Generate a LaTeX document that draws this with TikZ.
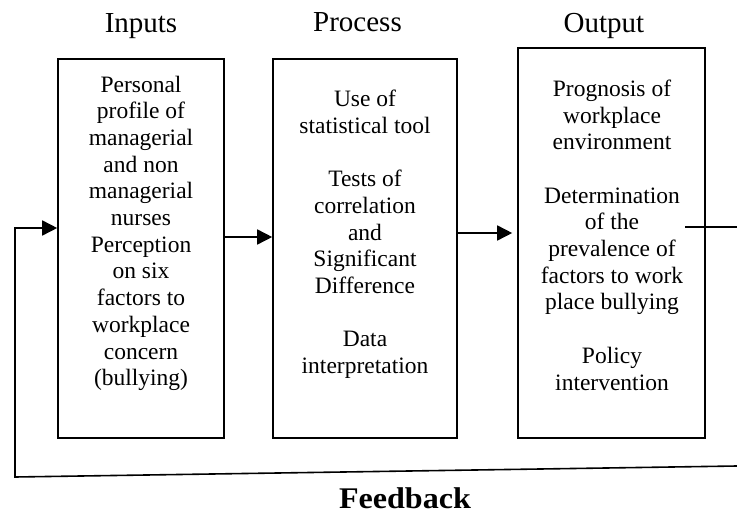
\documentclass[tikz,border=0pt]{standalone}
\usepackage{fontspec}
\setmainfont{Liberation Serif}
\usetikzlibrary{arrows.meta}

\begin{document}
\begin{tikzpicture}[x=1pt,y=-1pt,
  box/.style={draw, line width=1.6pt, inner sep=0pt, minimum width=#1},
  body/.style={align=center, inner sep=0pt, anchor=base,
               font=\fontsize{23.5}{26.7}\selectfont},
  head/.style={inner sep=0pt, anchor=base, font=\fontsize{29}{34}\selectfont},
  link/.style={line width=1.6pt},
  conn/.style={link, -{Triangle[length=15pt,width=15pt]}}]
  \useasboundingbox (0,0) rectangle (737,514);
  \clip (0,0) rectangle (737,514);

  % column headings
  \node[head] (hin)   at (141,32.3)   {Inputs};
  \node[head] (hproc) at (357.5,31.7) {Process};
  \node[head] (hout)  at (604,32.3)   {Output};

  % the three stages
  \node[box=166pt, minimum height=379pt] (inbox)   at (141,248.5) {};
  \node[box=184pt, minimum height=379pt] (procbox) at (365,248.5) {};
  \node[box=187pt, minimum height=390pt] (outbox)  at (611.5,243) {};

  % text blocks, placed by the baseline of their last line
  \node[body] (intext) at (141,385.7) {Personal\\profile of\\managerial\\and non\\managerial\\nurses\\Perception\\on six\\factors to\\workplace\\concern\\(bullying)};
  \node[body] (proctext) at (365,373.5) {Use of\\statistical tool\\[26.7pt]Tests of\\correlation\\and\\Significant\\Difference\\[26.7pt]Data\\interpretation};
  \node[body] (outtext) at (612,390) {Prognosis of\\workplace\\environment\\[26.7pt]Determination\\of the\\prevalence of\\factors to work\\place bullying\\[26.7pt]Policy\\intervention};

  % flow between stages
  \coordinate (ya) at (0,237);
  \coordinate (yb) at (0,233);
  \draw[conn] (inbox.east |- ya) -- (procbox.west |- ya);
  \draw[conn, shorten >=5pt] (procbox.east |- yb) -- (outbox.west |- yb);

  % feedback loop
  \coordinate (outR) at (737,227);
  \coordinate (outL) at (685,227);
  \coordinate (fbR) at (737,466);
  \coordinate (fbL) at (15,477);
  \coordinate (fbT) at (15,228);
  \draw[link] (outL) -- (outR);
  \draw[conn] (fbR) -- (fbL) -- (fbT) -- (fbT -| inbox.west);

  \node[inner sep=0pt, anchor=base, font=\fontsize{30}{36}\selectfont\bfseries] (fb) at (405,508.5) {\scalebox{1.07}[1]{Feedback}};
\end{tikzpicture}
\end{document}
